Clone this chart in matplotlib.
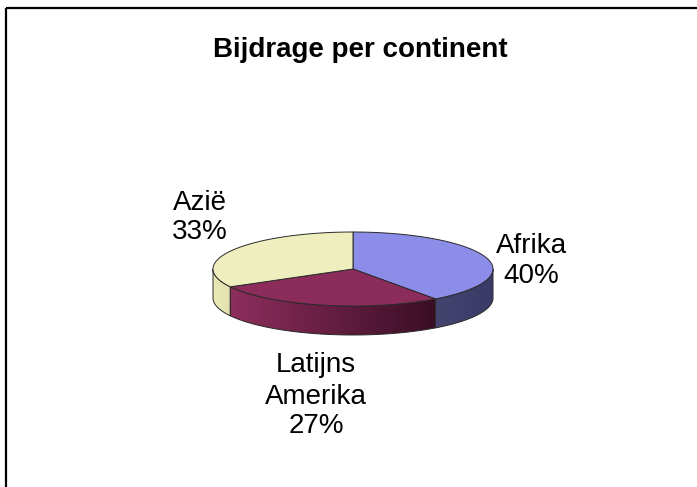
import numpy as np
import matplotlib
matplotlib.use("Agg")
import matplotlib.pyplot as plt
from matplotlib.patches import Polygon
from matplotlib.colors import to_rgb

# ---- data ----
categories = ["Afrika", "Latijns Amerika", "Azië"]
label_lines = [["Afrika", "40%"], ["Latijns", "Amerika", "27%"], ["Azië", "33%"]]
values = [40, 27, 33]
title = "Bijdrage per continent"

# ---- style ----
top_colors = ["#8c8ce9", "#8c2c5b", "#eeeebe"]
side_colors = [("#44446f", "#3a3a68"), ("#8e2e5d", "#3a0e25"), ("#e9e9b6", "#e2e2ae")]
edge = "#2a2a2a"

W, H = 697, 487
fig = plt.figure(figsize=(W / 100, H / 100), dpi=100)
ax = fig.add_axes([0, 0, 1, 1])
ax.set_xlim(0, W)
ax.set_ylim(H, 0)
ax.axis("off")

# frame lines (top and left)
ax.plot([6, W], [8, 8], color="black", lw=1.6, solid_capstyle="butt")
ax.plot([6, 6], [8, H], color="black", lw=1.6, solid_capstyle="butt")

cx, cy, rx, ry, depth = 353, 269, 140, 37, 29

def pt(t):
    return cx + rx * np.cos(t), cy - ry * np.sin(t)

fracs = np.array(values, dtype=float) / sum(values)
start = np.pi / 2
angles = []
for f in fracs:
    end = start - f * 2 * np.pi
    angles.append((start, end))
    start = end

# sides (visible for t in [-pi, 0])
for i, (a0, a1) in enumerate(angles):
    lo, hi = max(min(a0, a1), -np.pi), min(max(a0, a1), 0)
    if hi <= lo:
        continue
    ts = np.linspace(hi, lo, 120)
    top_edge = [pt(t) for t in ts]
    bot_edge = [(x, y + depth) for x, y in top_edge[::-1]]
    verts = top_edge + bot_edge
    xs = [v[0] for v in verts]
    ys = [v[1] for v in verts]
    x0, x1 = min(xs), max(xs)
    y0, y1 = min(ys), max(ys)
    c0, c1 = np.array(to_rgb(side_colors[i][0])), np.array(to_rgb(side_colors[i][1]))
    s = np.linspace(0, 1, 256)[None, :, None]
    grad = c0[None, None, :] * (1 - s) + c1[None, None, :] * s
    grad = np.repeat(grad, 2, axis=0)
    clip = Polygon(verts, closed=True, facecolor="none", edgecolor="none",
                   transform=ax.transData)
    ax.add_patch(clip)
    im = ax.imshow(grad, extent=[x0, x1, y1, y0], aspect="auto",
                   interpolation="bilinear", zorder=1)
    im.set_clip_path(clip)
    ax.add_patch(Polygon(verts, closed=True, facecolor="none",
                         edgecolor=edge, lw=0.7, zorder=2))

ax.set_xlim(0, W)
ax.set_ylim(H, 0)

# top faces
for i, (a0, a1) in enumerate(angles):
    ts = np.linspace(a0, a1, 120)
    verts = [(cx, cy)] + [pt(t) for t in ts]
    ax.add_patch(Polygon(verts, closed=True, facecolor=top_colors[i],
                         edgecolor=edge, lw=0.7, zorder=3))

# labels
font = "Liberation Sans"
label_pos = [(531, [253, 283]), (316, [372, 404, 433]), (200, [210, 239])]
for lines, (x, ys) in zip(label_lines, label_pos):
    for line, y in zip(lines, ys):
        ax.text(x, y, line, ha="center", va="baseline", fontsize=20,
                family=font, color="black", zorder=4)

ax.text(360, 57, title, ha="center", va="baseline", fontsize=20,
        fontweight="bold", family=font, color="black", zorder=4)

fig.savefig("out.png", dpi=100)
